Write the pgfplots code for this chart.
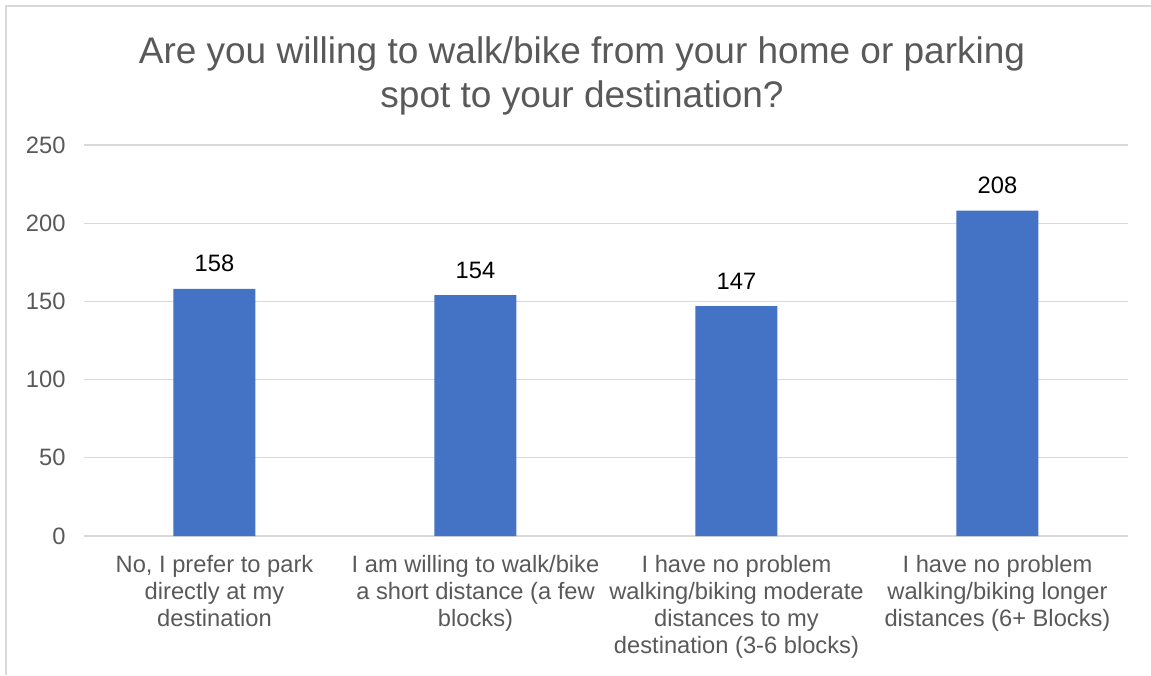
\documentclass[border=0pt]{standalone}
\usepackage{fontspec}
\setmainfont{Liberation Sans}
\usepackage{pgfplots}
\pgfplotsset{compat=1.18}
\definecolor{txt}{HTML}{595959}
\definecolor{grd}{HTML}{D9D9D9}
\definecolor{bar}{HTML}{4472C4}
\begin{document}
\begin{tikzpicture}[x=1pt,y=1pt]
\useasboundingbox (0,0) rectangle (1151,675);
\draw[grd, line width=1.3pt] (6,0) -- (6,669) -- (1151,669);
\node[anchor=base, text=txt, font=\fontsize{37}{44}\selectfont] at (582,611) {Are you willing to walk/bike from your home or parking};
\node[anchor=base, text=txt, font=\fontsize{37}{44}\selectfont] at (582,567) {spot to your destination?};
\begin{axis}[
  at={(84pt,139pt)}, anchor=south west,
  scale only axis, width=1044pt, height=391pt,
  xmin=-0.5, xmax=3.5, ymin=0, ymax=250,
  ytick={0,50,100,150,200,250},
  xtick={0,1,2,3},
  xticklabels={{No, I prefer to park\\directly at my\\destination},
               {I am willing to walk/bike\\a short distance (a few\\blocks)},
               {I have no problem\\walking/biking moderate\\distances to my\\destination (3-6 blocks)},
               {I have no problem\\walking/biking longer\\distances (6+ Blocks)}},
  xticklabel style={align=center, text=txt, font=\fontsize{23.7}{27}\selectfont, yshift=-16pt},
  yticklabel style={text=txt, font=\fontsize{23.7}{28}\selectfont, xshift=-15pt},
  /pgf/number format/assume math mode=true,
  axis line style={draw=none},
  axis x line*=bottom,
  x axis line style={draw=grd, line width=1.3pt},
  ymajorgrids, grid style={grd, line width=1.3pt},
  major tick length=0pt,
  ybar, bar width=82pt,
  nodes near coords,
  every node near coord/.append style={font=\fontsize{23.7}{28}\selectfont, text=black, anchor=base, yshift=17pt, inner sep=0pt},
]
\addplot[fill=bar, draw=none] coordinates {(0,158) (1,154) (2,147) (3,208)};
\end{axis}
\end{tikzpicture}
\end{document}
